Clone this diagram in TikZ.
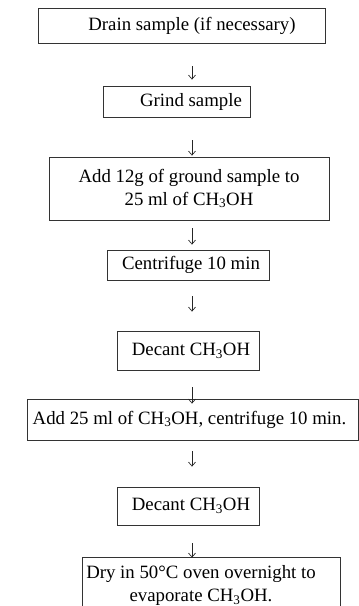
\documentclass[tikz,border=0pt]{standalone}
\usepackage{fontspec}
\setmainfont{Liberation Serif}
\usetikzlibrary{arrows.meta}

\newcommand{\meoh}{CH\textsubscript{3}OH}
\def\axisx{192}

\tikzset{
  stepbox/.style={draw=black!80, line width=0.8pt, inner sep=0pt, align=center,
    font=\fontsize{18.8}{23}\selectfont},
  flow/.style={draw=black!85, line width=0.7pt,
    -{Straight Barb[length=4pt,width=7pt]}}
}

\begin{document}
\begin{tikzpicture}[x=1pt,y=-1pt]
    \useasboundingbox (0,0) rectangle (359,606);
    \clip (0,0) rectangle (359,606);

    \coordinate (axis) at (\axisx,0);

    % the steps, top to bottom
    \node[stepbox, minimum width=287pt, minimum height=35pt] (drain) at (181.5,25.5)
      {\hspace*{21pt}Drain sample (if necessary)};
    \node[stepbox, minimum width=147pt, minimum height=31pt] (grind) at (176.5,101.5)
      {\hspace*{29pt}Grind sample};
    \node[stepbox, minimum width=280pt, minimum height=63pt] (add) at (189,188.5)
      {Add 12g of ground sample to\\25 ml of \meoh};
    \node[stepbox, minimum width=162pt, minimum height=30pt] (spin) at (188,265)
      {\hspace*{6pt}Centrifuge 10 min};
    \node[stepbox, minimum width=142pt, minimum height=39pt] (decant) at (188,350.5)
      {\hspace*{6pt}Decant \meoh};
    \node[stepbox, minimum width=331pt, minimum height=41pt] (rinse) at (192.5,419.5)
      {Add 25 ml of \meoh, centrifuge 10 min.\hspace*{6pt}};
    \node[stepbox, minimum width=142pt, minimum height=38pt] (decanttwo) at (188,506)
      {\hspace*{6pt}Decant \meoh};
    \node[stepbox, minimum width=258pt, minimum height=57pt] (dry) at (211,585.5)
      {Dry in 50°C oven overnight to\hspace*{20pt}\\evaporate \meoh.\hspace*{20pt}};

    % arrows between steps
    \draw[flow, shorten <=23pt, shorten >=6pt] (drain.south -| axis) -- (grind.north -| axis);
    \draw[flow, shorten <=23pt, shorten >=1pt] (grind.south -| axis) -- (add.north -| axis);
    \draw[flow, shorten <=8pt, shorten >=5pt] (add.south -| axis) -- (spin.north -| axis);
    \draw[flow, shorten <=16pt, shorten >=19pt] (spin.south -| axis) -- (decant.north -| axis);
    \draw[flow, shorten <=17pt, shorten >=-5pt] (decant.south -| axis) -- (rinse.north -| axis);
    \draw[flow, shorten <=11pt, shorten >=20pt] (rinse.south -| axis) -- (decanttwo.north -| axis);
    \draw[flow, shorten <=18pt, shorten >=-1pt] (decanttwo.south -| axis) -- (dry.north -| axis);
\end{tikzpicture}
\end{document}
